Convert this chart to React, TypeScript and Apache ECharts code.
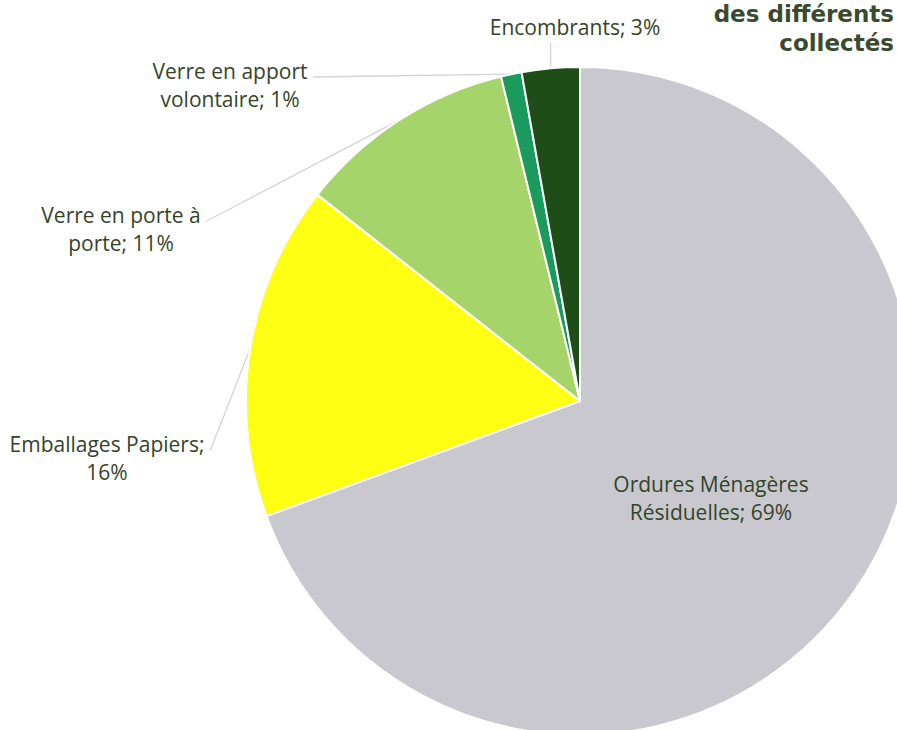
import React, { useEffect, useRef } from "react";
import * as echarts from "echarts";

const categories = [
  "Ordures Ménagères Résiduelles",
  "Emballages Papiers",
  "Verre en porte à porte",
  "Verre en apport volontaire",
  "Encombrants",
];
const values = [69.4, 16.2, 10.6, 1.0, 2.8];
const labelTexts = [
  "Ordures Ménagères\nRésiduelles; 69%",
  "Emballages Papiers;\n16%",
  "Verre en porte à\nporte; 11%",
  "Verre en apport\nvolontaire; 1%",
  "Encombrants; 3%",
];
const colors = ["#c9c8cf", "#ffff14", "#a5d46a", "#1a9a5c", "#1f4d17"];
const titleLines = ["des différents", "collectés"];

// label centre positions (layout)
const labelCenters: number[][] = [
  [711, 498],
  [107, 458],
  [121, 229],
  [230, 85],
  [575, 27],
];

export default function App() {
  const ref = useRef<HTMLDivElement>(null);
  useEffect(() => {
    if (!ref.current) return;
    const chart = echarts.init(ref.current, undefined, { renderer: "svg" });
    const textColor = "#33442a";
    chart.setOption({
      animation: false,
      backgroundColor: "#ffffff",
      graphic: [
        {
          type: "text",
          x: 894,
          y: 2,
          style: {
            text: titleLines[0],
            font: 'bold 23px "DejaVu Sans", sans-serif',
            fill: "#3a4a2e",
            align: "right",
          },
        },
        {
          type: "text",
          x: 894,
          y: 31,
          style: {
            text: titleLines[1],
            font: 'bold 23px "DejaVu Sans", sans-serif',
            fill: "#3a4a2e",
            align: "right",
          },
        },
      ],
      series: [
        {
          type: "pie",
          center: [580, 401],
          radius: 334,
          startAngle: 90,
          clockwise: true,
          avoidLabelOverlap: false,
          itemStyle: { borderColor: "#ffffff", borderWidth: 2 },
          label: {
            show: true,
            position: "outside",
            formatter: (p: any) => labelTexts[p.dataIndex],
            color: textColor,
            fontFamily: '"Open Sans", sans-serif',
            fontSize: 21,
            lineHeight: 28,
            align: "center",
          },
          labelLine: {
            show: true,
            lineStyle: { color: "#d4d4d4", width: 1.3 },
          },
          labelLayout: (params: any) => {
            const i = params.dataIndex;
            const [cx, cy] = labelCenters[i];
            const w = params.labelRect.width;
            const h = params.labelRect.height;
            const res: any = { x: cx, y: cy, align: "center", verticalAlign: "middle" };
            const pts = params.labelLinePoints;
            if (i > 0 && pts && pts.length) {
              const start = pts[0];
              let end: number[];
              if (i === 4) {
                end = [start[0], cy + h / 2 + 2];
              } else {
                end = [cx + w / 2 + 6, cy - 8];
              }
              res.labelLinePoints = [start, end];
            }
            return res;
          },
          data: categories.map((name, i) => ({
            name,
            value: values[i],
            itemStyle: { color: colors[i] },
            labelLine: { show: i !== 0 },
          })),
        },
      ],
    });
    return () => chart.dispose();
  }, []);
  return (
    <div
      ref={ref}
      style={{ position: "fixed", left: 0, top: 0, width: 897, height: 730 }}
    />
  );
}
